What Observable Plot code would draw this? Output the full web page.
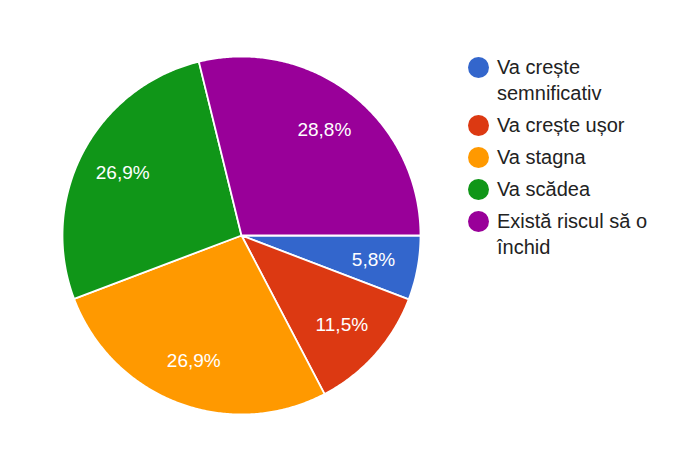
<!DOCTYPE html>
<html>
<head>
<meta charset="utf-8">
<script src="https://cdn.jsdelivr.net/npm/d3@7"></script>
<script src="https://cdn.jsdelivr.net/npm/@observablehq/plot@0.6"></script>
<style>
  html, body { margin: 0; padding: 0; background: #fff; }
  #wrap { position: relative; width: 692px; height: 460px; font-family: "Liberation Sans", Arial, sans-serif; }
  #legend { position: absolute; left: 468px; top: 54px; width: 222px; }
  .item { display: flex; align-items: flex-start; margin-bottom: 6px; }
  .sw { width: 21px; height: 21px; border-radius: 50%; flex: none; margin-top: 2.5px; margin-right: 8px; }
  .lab { font-size: 20px; line-height: 26px; color: #222; width: 180px; }
</style>
</head>
<body>
<div id="wrap"><div id="chart"></div><div id="legend"></div></div>
<script>
const categories = ["Va crește semnificativ", "Va crește ușor", "Va stagna", "Va scădea", "Există riscul să o închid"];
const values = [5.8, 11.5, 26.9, 26.9, 28.8];
const valueLabels = ["5,8%", "11,5%", "26,9%", "26,9%", "28,8%"];
const colors = ["#3366cc", "#dc3912", "#ff9900", "#109618", "#990099"];

const total = d3.sum(values);
const polys = [];
const labelPts = [];
let acc = 0;
categories.forEach((c, i) => {
  const a0 = acc / total * 2 * Math.PI;
  acc += values[i];
  const a1 = acc / total * 2 * Math.PI;
  const n = Math.max(2, Math.ceil((a1 - a0) / (Math.PI / 360)));
  polys.push({cat: c, x: 0, y: 0});
  for (let k = 0; k <= n; k++) {
    const a = a0 + (a1 - a0) * k / n;
    polys.push({cat: c, x: Math.cos(a), y: Math.sin(a)});
  }
  polys.push({cat: c, x: 0, y: 0});
  const am = (a0 + a1) / 2;
  labelPts.push({x: 0.75 * Math.cos(am), y: 0.75 * Math.sin(am), text: valueLabels[i]});
});

const chart = Plot.plot({
  width: 692,
  height: 460,
  marginLeft: 62,
  marginRight: 272,
  marginTop: 56,
  marginBottom: 46,
  x: {domain: [-1, 1], axis: null},
  y: {domain: [-1, 1], axis: null, reverse: true},
  color: {domain: categories, range: colors},
  style: {fontFamily: "Liberation Sans, Arial, sans-serif", background: "#fff"},
  marks: [
    Plot.line(polys, {x: "x", y: "y", z: "cat", fill: "cat", stroke: "white", strokeWidth: 1.8, strokeLinejoin: "round"}),
    Plot.text(labelPts, {x: "x", y: "y", text: "text", fill: "white", fontSize: 19})
  ]
});
document.getElementById("chart").appendChild(chart);

const legend = document.getElementById("legend");
categories.forEach((c, i) => {
  const it = document.createElement("div");
  it.className = "item";
  const sw = document.createElement("div");
  sw.className = "sw";
  sw.style.background = colors[i];
  const lb = document.createElement("div");
  lb.className = "lab";
  lb.textContent = c;
  it.appendChild(sw);
  it.appendChild(lb);
  legend.appendChild(it);
});
</script>
</body>
</html>
